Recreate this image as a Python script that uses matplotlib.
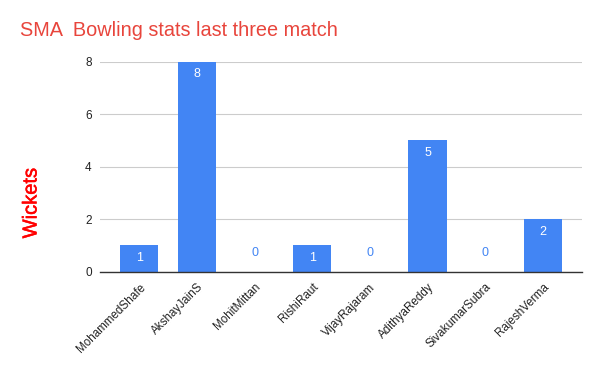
import matplotlib
matplotlib.use('Agg')
import matplotlib.pyplot as plt
import matplotlib.patheffects as pe

players = ["MohammedShafe", "AkshayJainS", "MohitMittan", "RishiRaut",
           "VijayRajaram", "AdithyaReddy", "SivakumarSubra", "RajeshVerma"]
wickets = [1, 8, 0, 1, 0, 5, 0, 2]
y_ticks = [0, 2, 4, 6, 8]

plt.rcParams['font.family'] = ['Liberation Sans', 'DejaVu Sans']

blue = '#4285f4'

fig = plt.figure(figsize=(6, 3.71), dpi=100)
ax = fig.add_axes([100/600, 1 - 271.5/371, 482/600, (271.5 - 61.7)/371])

x = range(len(players))
bars = ax.bar(x, wickets, width=0.66, color=blue, zorder=3)

# value labels: white inside the bar, blue just above the axis for zeros
for xi, v in zip(x, wickets):
    if v > 0:
        ax.text(xi, v - 0.48, str(v), ha='center', va='center', color='white', fontsize=9, zorder=4)
    else:
        ax.text(xi, 0.72, str(v), ha='center', va='center', color=blue, fontsize=9, zorder=4)

ax.set_xlim(-0.68, 7.68)
ax.set_ylim(0, 8)
ax.set_yticks(y_ticks)
ax.set_xticks(list(x))
ax.set_xticklabels(players, rotation=45, ha='right', rotation_mode='anchor', fontsize=8.4, color='#222222')
ax.tick_params(axis='y', length=0, pad=6, labelsize=8.5, labelcolor='#222222')
ax.tick_params(axis='x', length=0, pad=7)

ax.grid(axis='y', color='#cccccc', linewidth=0.8, zorder=0)
for side in ['top', 'right', 'left']:
    ax.spines[side].set_visible(False)
ax.spines['bottom'].set_color('#333333')
ax.spines['bottom'].set_linewidth(1.0)
ax.spines['bottom'].set_zorder(5)

fig.text(20/600, 1 - 31/371, "SMA  Bowling stats last three match", color='#e8453c',
         fontsize=14.3, ha='left', va='center')
fig.text(31/600, 1 - 203/371, "Wickets", color='#ff0000', fontsize=14.5,
         rotation=90, ha='center', va='center',
         path_effects=[pe.withStroke(linewidth=0.35, foreground='#ff0000')])

fig.savefig('out.png', dpi=100)
